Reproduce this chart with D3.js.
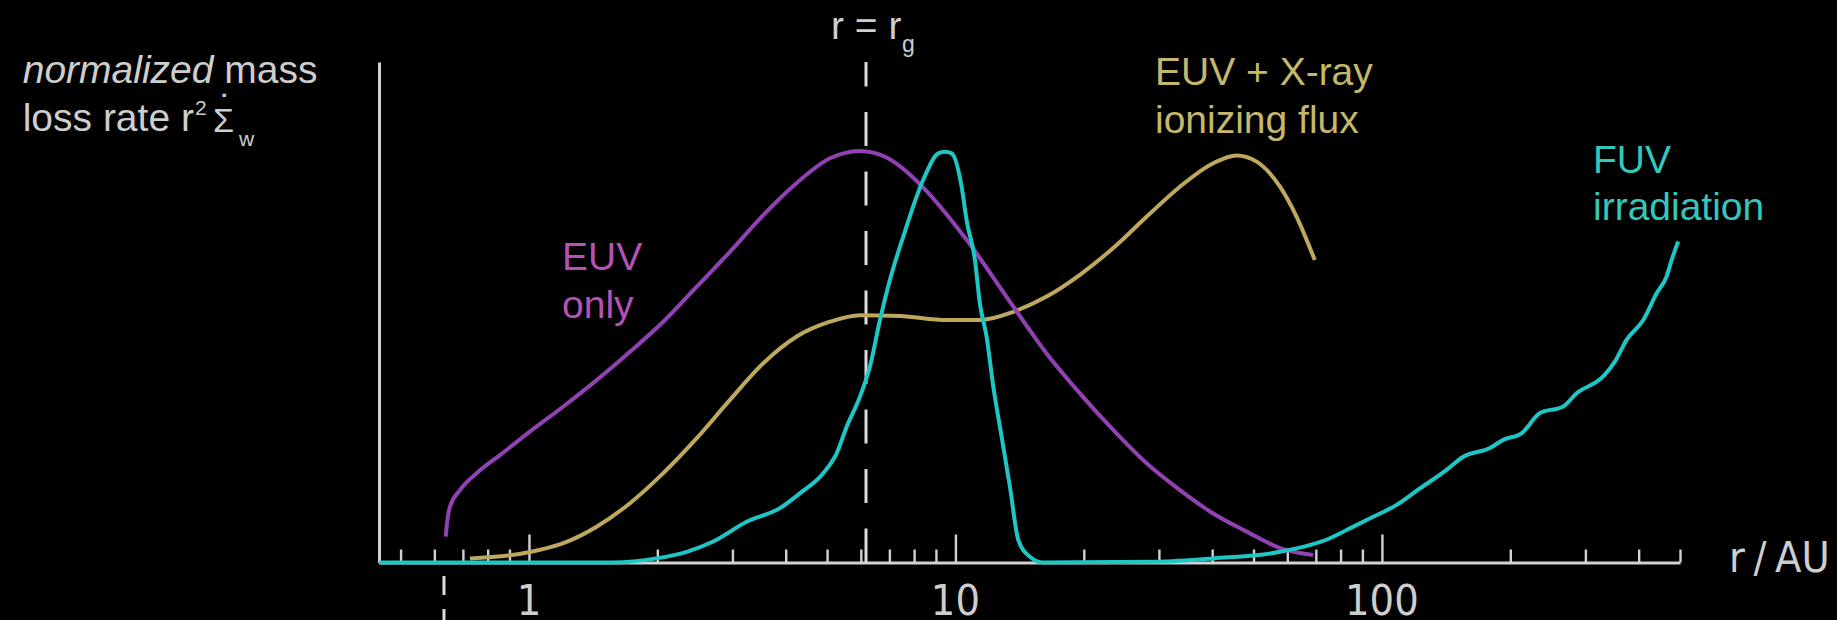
<!DOCTYPE html>
<html>
<head>
<meta charset="utf-8">
<script src="https://cdn.jsdelivr.net/npm/d3@7"></script>
<style>
  html, body { margin: 0; padding: 0; background: #000; }
  svg { display: block; }
</style>
</head>
<body>
<svg id="chart" width="1837" height="620"></svg>
<script>
// Normalized wind mass-loss profiles: [radius in AU, r^2 * Sigma_dot_w (peak = 1)]
const euvOnly = [
  [0.638, 0.063], [0.645, 0.110], [0.653, 0.136], [0.689, 0.176], [0.754, 0.217],
  [0.855, 0.261], [1.005, 0.318], [1.204, 0.379], [1.441, 0.443], [1.725, 0.512],
  [2.065, 0.585], [2.474, 0.670], [2.960, 0.755], [3.543, 0.844], [4.244, 0.922],
  [5.079, 0.982], [5.972, 1.000], [6.899, 0.984], [7.343, 0.966], [8.404, 0.911],
  [10.62, 0.784], [13.66, 0.622], [16.36, 0.508], [19.58, 0.411], [23.44, 0.322],
  [28.07, 0.241], [33.60, 0.176], [40.22, 0.119], [48.17, 0.075], [57.67, 0.035],
  [69.0, 0.018]
];

const euvXray = [
  [0.727, 0.010], [1.000, 0.025], [1.204, 0.047], [1.441, 0.087], [1.725, 0.144],
  [2.065, 0.217], [2.474, 0.302], [2.960, 0.395], [3.543, 0.484], [4.244, 0.549],
  [5.079, 0.585], [5.972, 0.601], [7.413, 0.599], [9.537, 0.589], [11.41, 0.589],
  [13.66, 0.609], [16.36, 0.646], [19.58, 0.699], [23.44, 0.764], [28.07, 0.840],
  [33.60, 0.913], [40.22, 0.970], [45.60, 0.989], [50.85, 0.974], [57.67, 0.913],
  [63.10, 0.840], [69.60, 0.735]
];

const fuvIrradiation = [
  [0.445, 0], [1.574, 0], [1.992, 0.010], [2.343, 0.026], [2.705, 0.051],
  [3.239, 0.099], [3.877, 0.132], [4.319, 0.168], [4.898, 0.217], [5.266, 0.265],
  [5.558, 0.330], [5.972, 0.403], [6.303, 0.476], [6.653, 0.589], [7.022, 0.687],
  [7.545, 0.792], [8.404, 0.930], [9.114, 0.994], [9.450, 0.998], [9.797, 0.994],
  [10.34, 0.913], [10.62, 0.832], [11.11, 0.735], [11.41, 0.630], [11.83, 0.549],
  [12.27, 0.427], [12.83, 0.306], [13.42, 0.184], [14.04, 0.055], [14.95, 0.014],
  [16.07, 0], [29.64, 0.002], [40.22, 0.010], [57.67, 0.026], [75.53, 0.059],
  [82.67, 0.079], [95.40, 0.111], [108.3, 0.140], [122.8, 0.180], [141.8, 0.225],
  [155.1, 0.257], [179.2, 0.278], [192.5, 0.298], [212.6, 0.314], [234.8, 0.363],
  [266.2, 0.379], [286.1, 0.411], [330.3, 0.452], [351.8, 0.488], [374.7, 0.541],
  [410.0, 0.589], [440.8, 0.654], [465.2, 0.695], [477.9, 0.735], [495.1, 0.780]
];

// Radial axis ticks and labels
const majorTicks = [1, 10, 100];
const minorTicks = [0.5, 0.6, 0.7, 0.8, 0.9, 2, 3, 4, 5, 6, 7, 8, 9,
                    20, 30, 40, 50, 60, 70, 80, 90, 200, 300, 400, 500];
const tickLabels = ["1", "10", "100"];

// Reference radii and axis extents
const rGravitational = 6.17;
const rInner = 0.632;
const rDomain = [0.445, 500];
const yDomain = [0, 1.216];

const axisColor = "#d2d2d2";
const textColor = "#cecece";
const sansFont = "'Liberation Sans', Arial, sans-serif";
const tickFont = "'DejaVu Sans', sans-serif";

const svg = d3.select("#chart");
svg.append("rect").attr("width", 1837).attr("height", 620).attr("fill", "#000");

const x = d3.scaleLog().domain(rDomain).range([379, 1680]);
const y = d3.scaleLinear().domain(yDomain).range([562.5, 62]);

// Vertical axis (no ticks)
const yAxisG = svg.append("g")
  .attr("transform", `translate(${x(rDomain[0])},0)`)
  .call(d3.axisLeft(y).tickValues([]).tickSizeOuter(0));
yAxisG.select(".domain").attr("stroke", axisColor).attr("stroke-width", 3);

// Horizontal log axis: short minor ticks, taller decade ticks
const xAxisMinor = svg.append("g")
  .attr("transform", `translate(0,${y(0)})`)
  .call(d3.axisTop(x).tickValues(minorTicks).tickSize(13).tickSizeOuter(0).tickFormat(""));
xAxisMinor.select(".domain").attr("stroke", axisColor).attr("stroke-width", 3);
xAxisMinor.selectAll(".tick line").attr("stroke", axisColor).attr("stroke-width", 2.4);

const xAxisMajor = svg.append("g")
  .attr("transform", `translate(0,${y(0)})`)
  .call(d3.axisTop(x).tickValues(majorTicks).tickSize(28).tickSizeOuter(0).tickFormat(""));
xAxisMajor.select(".domain").remove();
xAxisMajor.selectAll(".tick line").attr("stroke", axisColor).attr("stroke-width", 2.4);

// Decade labels below the axis
svg.append("g").selectAll("text")
  .data(majorTicks)
  .join("text")
  .attr("transform", (d) => `translate(${x(d)},615) scale(0.92,1)`)
  .attr("text-anchor", "middle")
  .attr("font-family", tickFont)
  .attr("font-size", 42)
  .attr("fill", textColor)
  .text((d, i) => tickLabels[i]);

svg.append("text")
  .attr("transform", "translate(1729,572) scale(0.92,1)")
  .attr("font-family", tickFont)
  .attr("font-size", 42)
  .attr("word-spacing", -4)
  .attr("fill", textColor)
  .text("r / AU");

// Dashed marker at the gravitational radius
svg.append("line")
  .attr("x1", x(rGravitational)).attr("x2", x(rGravitational))
  .attr("y1", y(0)).attr("y2", y(yDomain[1]))
  .attr("stroke", "#dcdcdc").attr("stroke-width", 3)
  .attr("stroke-dasharray", "34,25.5");

// Short dashed marker below the axis at the inner radius
svg.append("line")
  .attr("x1", x(rInner)).attr("x2", x(rInner))
  .attr("y1", 576).attr("y2", 620)
  .attr("stroke", "#dcdcdc").attr("stroke-width", 3)
  .attr("stroke-dasharray", "19,14");

// Profile curves
const line = d3.line()
  .x((d) => x(d[0]))
  .y((d) => y(d[1]))
  .curve(d3.curveMonotoneX);

const series = [
  { data: euvXray, color: "#bea85e" },
  { data: euvOnly, color: "#9241b4" },
  { data: fuvIrradiation, color: "#1dc7c6" }
];

svg.append("g").selectAll("path")
  .data(series)
  .join("path")
  .attr("d", (s) => line(s.data))
  .attr("fill", "none")
  .attr("stroke", (s) => s.color)
  .attr("stroke-width", 4)
  .attr("stroke-linejoin", "round")
  .attr("stroke-linecap", "butt");

// Curve labels
function twoLine(xPos, y1, y2, lines, color) {
  const t = svg.append("g")
    .attr("font-family", sansFont)
    .attr("font-size", 39)
    .attr("fill", color);
  t.append("text").attr("x", xPos).attr("y", y1).text(lines[0]);
  t.append("text").attr("x", xPos).attr("y", y2).text(lines[1]);
}
twoLine(562, 270, 317.5, ["EUV", "only"], "#b452b6");
twoLine(1155, 85, 133, ["EUV + X-ray", "ionizing flux"], "#c5b76b");
twoLine(1593, 172.5, 220, ["FUV", "irradiation"], "#35c6bd");

// r = r_g label
const rgLabel = svg.append("g").attr("font-family", sansFont).attr("fill", textColor);
rgLabel.append("text").attr("x", 831).attr("y", 38.5).attr("font-size", 39).text("r = r");
rgLabel.append("text").attr("x", 902).attr("y", 52).attr("font-size", 23).text("g");

// Vertical axis title
const yTitle = svg.append("g").attr("font-family", sansFont).attr("fill", textColor);
const t1 = yTitle.append("text").attr("x", 22.7).attr("y", 82.7).attr("font-size", 39);
t1.append("tspan").attr("font-style", "italic").text("normalized");
t1.append("tspan").text(" mass");
yTitle.append("text").attr("x", 22.7).attr("y", 130.7).attr("font-size", 39).text("loss rate r");
yTitle.append("text").attr("x", 195).attr("y", 115).attr("font-size", 21).text("2");
yTitle.append("text").attr("x", 213).attr("y", 132).attr("font-size", 34).text("Σ");
yTitle.append("text").attr("x", 226).attr("y", 122).attr("font-size", 39)
  .attr("text-anchor", "middle").text("˙");
yTitle.append("text").attr("x", 239).attr("y", 146).attr("font-size", 21).text("w");
</script>
</body>
</html>
